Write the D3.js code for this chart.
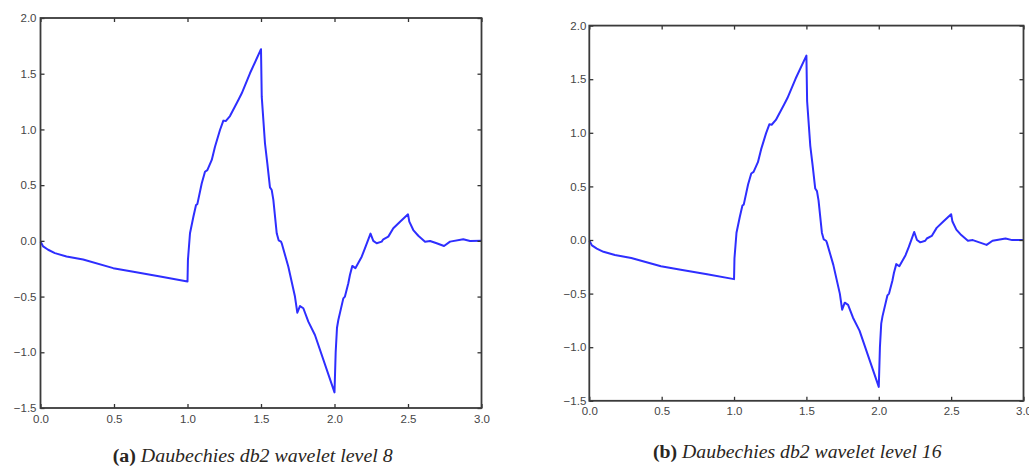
<!DOCTYPE html>
<html>
<head>
<meta charset="utf-8">
<script src="https://cdn.jsdelivr.net/npm/d3@7"></script>
<style>
  html, body { margin: 0; padding: 0; background: #ffffff; }
  svg { display: block; }
</style>
</head>
<body>
<svg id="chart" width="1029" height="470"></svg>
<script>
// ---------------- data ----------------
const xTickValues = [0, 0.5, 1, 1.5, 2, 2.5, 3];
const yTickValues = [-1.5, -1, -0.5, 0, 0.5, 1, 1.5, 2];

const tLevel8 = [
  0.000, 0.018, 0.052, 0.098, 0.177, 0.290, 0.495, 0.632, 0.814, 1.000,
  1.003, 1.017, 1.040, 1.058, 1.067, 1.097, 1.119, 1.135, 1.165, 1.187, 1.221,
  1.244, 1.260, 1.289, 1.346, 1.369, 1.425, 1.500,
  1.505, 1.527, 1.543, 1.561, 1.573, 1.584, 1.607, 1.620, 1.636, 1.641, 1.686,
  1.731, 1.747, 1.765, 1.788, 1.822, 1.867, 2.000,
  2.008, 2.017, 2.026, 2.060, 2.071, 2.094, 2.105, 2.121, 2.142, 2.185, 2.207,
  2.245, 2.264, 2.287, 2.321, 2.332, 2.366, 2.400, 2.446, 2.500,
  2.509, 2.536, 2.570, 2.616, 2.650, 2.695, 2.745, 2.786, 2.876, 2.922, 3.000
];
const psiLevel8 = [
  -0.005, -0.050, -0.080, -0.110, -0.140, -0.168, -0.245, -0.277, -0.320, -0.365,
  -0.170, 0.068, 0.217, 0.322, 0.330, 0.517, 0.620, 0.635, 0.726, 0.845, 0.995,
  1.079, 1.075, 1.120, 1.264, 1.324, 1.504, 1.720,
  1.294, 0.876, 0.696, 0.480, 0.456, 0.367, 0.068, 0.005, -0.007, -0.022, -0.232,
  -0.500, -0.645, -0.585, -0.605, -0.725, -0.845, -1.360,
  -1.000, -0.780, -0.710, -0.516, -0.500, -0.380, -0.306, -0.225, -0.245, -0.142, -0.067,
  0.065, 0.000, -0.022, -0.007, 0.014, 0.038, 0.113, 0.172, 0.238,
  0.172, 0.097, 0.046, -0.007, -0.001, -0.022, -0.046, -0.007, 0.014, -0.001, 0.000
];

const tLevel16 = [
  0.000, 0.018, 0.052, 0.098, 0.177, 0.290, 0.495, 0.632, 0.814, 1.000,
  1.003, 1.017, 1.040, 1.058, 1.067, 1.097, 1.119, 1.135, 1.165, 1.187, 1.221,
  1.244, 1.260, 1.289, 1.346, 1.369, 1.425, 1.500,
  1.505, 1.527, 1.543, 1.561, 1.573, 1.584, 1.607, 1.620, 1.636, 1.641, 1.686,
  1.731, 1.747, 1.765, 1.788, 1.822, 1.867, 2.000,
  2.008, 2.017, 2.026, 2.060, 2.071, 2.094, 2.105, 2.121, 2.142, 2.185, 2.207,
  2.245, 2.264, 2.287, 2.321, 2.332, 2.366, 2.400, 2.446, 2.500,
  2.509, 2.536, 2.570, 2.616, 2.650, 2.695, 2.745, 2.786, 2.876, 2.922, 3.000
];
const psiLevel16 = [
  -0.005, -0.050, -0.080, -0.110, -0.140, -0.168, -0.245, -0.277, -0.320, -0.365,
  -0.170, 0.068, 0.217, 0.322, 0.330, 0.517, 0.620, 0.635, 0.726, 0.845, 0.995,
  1.079, 1.075, 1.120, 1.264, 1.324, 1.504, 1.720,
  1.294, 0.876, 0.696, 0.480, 0.456, 0.367, 0.068, 0.005, -0.007, -0.022, -0.232,
  -0.500, -0.650, -0.585, -0.605, -0.725, -0.845, -1.370,
  -1.000, -0.780, -0.710, -0.516, -0.500, -0.380, -0.306, -0.225, -0.245, -0.142, -0.067,
  0.075, 0.000, -0.022, -0.007, 0.014, 0.038, 0.113, 0.172, 0.240,
  0.172, 0.097, 0.046, -0.007, -0.001, -0.022, -0.046, -0.007, 0.014, -0.001, 0.000
];

const captionLabels = ["(a)", "(b)"];
const captionTexts = ["Daubechies db2 wavelet level 8", "Daubechies db2 wavelet level 16"];

// ---------------- layout ----------------
const panels = [
  { t: tLevel8,  v: psiLevel8,  left: 40.5,  right: 481.5,  top: 18,   bottom: 408,
    xPad: 6.5, yPad: 4, capLeft: 112.7, capRight: 393,   capBase: 462 },
  { t: tLevel16, v: psiLevel16, left: 589.3, right: 1023.5, top: 25.6, bottom: 400.8,
    xPad: 6,   yPad: 3, capLeft: 653,   capRight: 941.7, capBase: 458 }
];

const svg = d3.select("#chart");
const fmt = d3.format(".1f");
const tickFont = "'Liberation Sans', Arial, sans-serif";

panels.forEach((p, i) => {
  const x = d3.scaleLinear().domain([0, 3]).range([p.left, p.right]);
  const y = d3.scaleLinear().domain([-1.5, 2]).range([p.bottom, p.top]);
  const g = svg.append("g");

  // line
  const pts = p.t.map((t, k) => [t, p.v[k]]);
  g.append("path")
    .datum(pts)
    .attr("fill", "none")
    .attr("stroke", "#2e2eff")
    .attr("stroke-width", 2)
    .attr("stroke-linejoin", "round")
    .attr("d", d3.line().x(d => x(d[0])).y(d => y(d[1])));

  // axes (inward ticks on all four sides)
  const styleAxis = sel => {
    sel.select(".domain").remove();
    sel.selectAll(".tick line").attr("stroke", "#333").attr("stroke-width", 1.3);
    sel.selectAll(".tick text")
      .attr("fill", "#454545")
      .style("font-family", tickFont)
      .style("font-size", "11.5px");
  };

  g.append("g").attr("transform", `translate(0,${p.bottom})`)
    .call(d3.axisBottom(x).tickValues(xTickValues).tickFormat(fmt).tickSize(-4).tickPadding(p.xPad))
    .call(styleAxis);
  g.append("g").attr("transform", `translate(0,${p.top})`)
    .call(d3.axisTop(x).tickValues(xTickValues).tickFormat("").tickSize(-4))
    .call(styleAxis);
  g.append("g").attr("transform", `translate(${p.left},0)`)
    .call(d3.axisLeft(y).tickValues(yTickValues).tickFormat(fmt).tickSize(-4).tickPadding(p.yPad))
    .call(styleAxis);
  g.append("g").attr("transform", `translate(${p.right},0)`)
    .call(d3.axisRight(y).tickValues(yTickValues).tickFormat("").tickSize(-4))
    .call(styleAxis);

  // frame
  g.append("rect")
    .attr("x", p.left).attr("y", p.top)
    .attr("width", p.right - p.left).attr("height", p.bottom - p.top)
    .attr("fill", "none").attr("stroke", "#3a3a3a").attr("stroke-width", 1.8);

  // caption
  const cap = svg.append("text")
    .attr("x", 0).attr("y", 0)
    .attr("fill", "#2a2622")
    .style("font-family", "'Liberation Serif', 'DejaVu Serif', serif")
    .style("font-size", "19px");
  cap.append("tspan").attr("font-weight", "bold").text(captionLabels[i]);
  cap.append("tspan").attr("font-style", "italic").text("\u00a0" + captionTexts[i]);
  const w = cap.node().getComputedTextLength();
  const target = p.capRight - p.capLeft;
  cap.attr("transform", `translate(${p.capLeft},${p.capBase}) scale(${target / w},1)`);
});
</script>
</body>
</html>
